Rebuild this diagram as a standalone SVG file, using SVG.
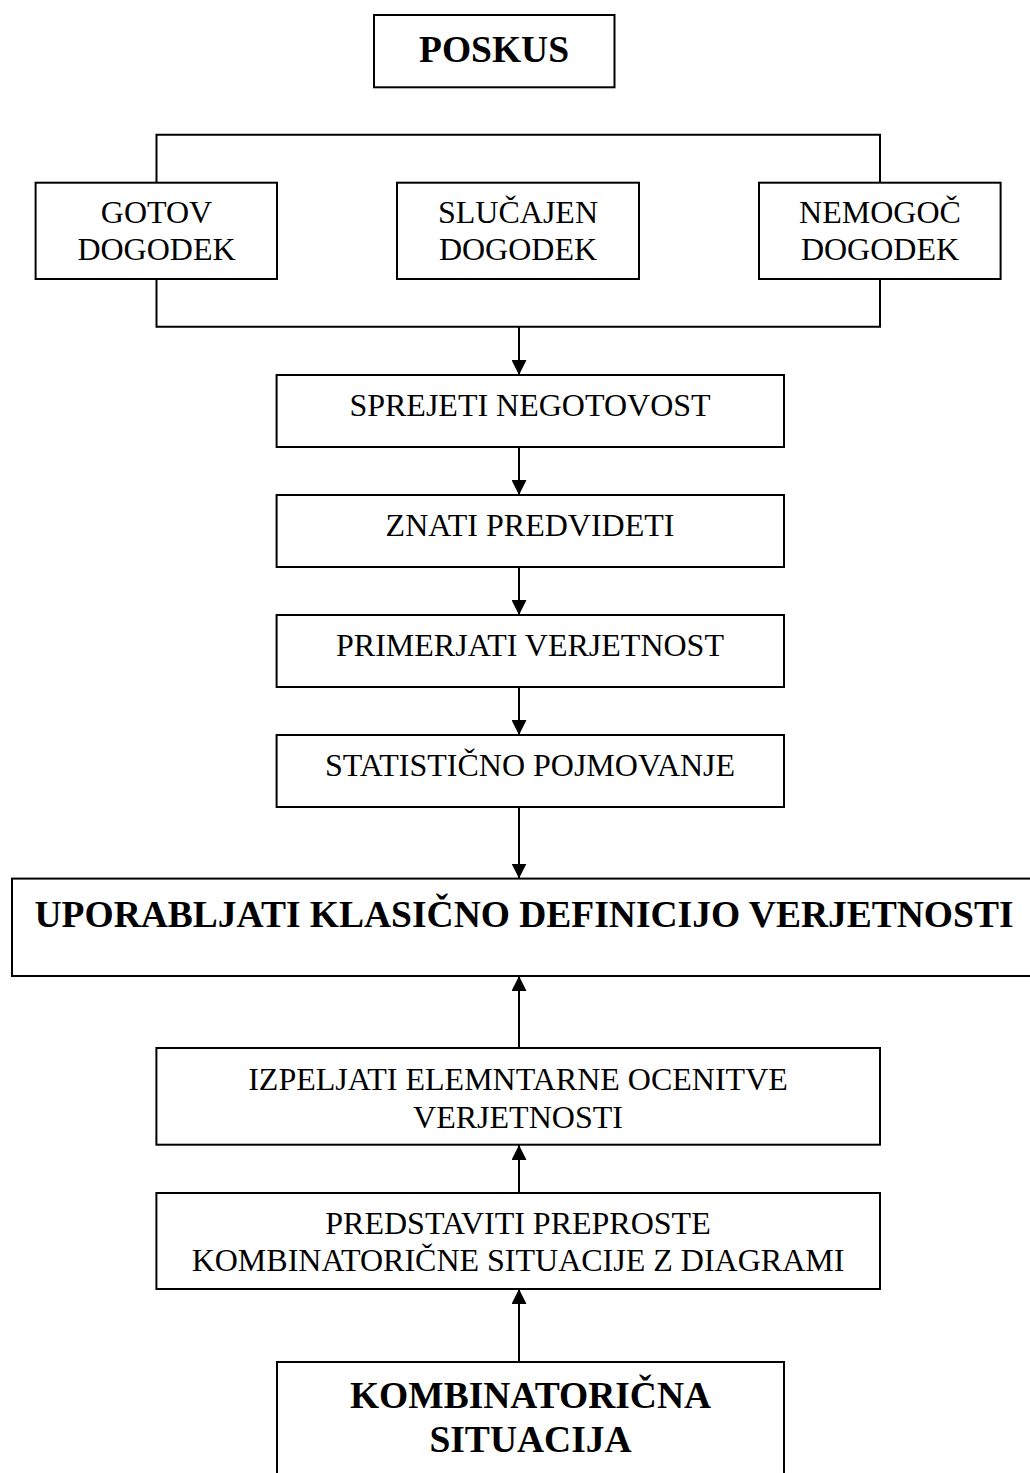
<svg xmlns="http://www.w3.org/2000/svg" width="1030" height="1473" viewBox="0 0 1030 1473">
<defs>
<marker id="ah" viewBox="0 0 15 15" refX="15" refY="7.5" markerWidth="15" markerHeight="15" markerUnits="userSpaceOnUse" orient="auto">
<path d="M0,0 L15,7.5 L0,15 Z" fill="#000"/>
</marker>
<style>
.box{fill:#fff;stroke:#000;stroke-width:2}
.t{font-family:"Liberation Serif","Times New Roman",serif;font-size:32px;fill:#000;text-anchor:middle}
.b{font-family:"Liberation Serif","Times New Roman",serif;font-size:37.5px;font-weight:bold;fill:#000;text-anchor:middle}
.ln{fill:none;stroke:#000;stroke-width:2}
.ar{fill:none;stroke:#000;stroke-width:2;marker-end:url(#ah)}
</style>
</defs>
<rect width="1030" height="1473" fill="#fff"/>
<g id="connectors">
<path class="ln" d="M156.5,182.7 V134.7 H880 V182.7"/>
<path class="ln" d="M156.5,279 V326.7 H880 V279"/>
<path class="ar" d="M519,326.7 V375"/>
<path class="ar" d="M519,447 V495"/>
<path class="ar" d="M519,567 V615"/>
<path class="ar" d="M519,687 V735"/>
<path class="ar" d="M519,807 V878.6"/>
<path class="ar" d="M519,1048 V976"/>
<path class="ar" d="M519,1193 V1145"/>
<path class="ar" d="M519,1362 V1289"/>
</g>
<g id="poskus">
<rect class="box" x="374" y="15" width="240.5" height="72.3"/>
<text class="b" x="494" y="61.5">POSKUS</text>
</g>
<g id="gotov">
<rect class="box" x="35.6" y="182.7" width="241.4" height="96.3"/>
<text class="t" x="156.5" y="223">GOTOV</text>
<text class="t" x="156.5" y="260">DOGODEK</text>
</g>
<g id="slucajen">
<rect class="box" x="397" y="182.7" width="242" height="96.3"/>
<text class="t" x="518" y="223">SLUČAJEN</text>
<text class="t" x="518" y="260">DOGODEK</text>
</g>
<g id="nemogoc">
<rect class="box" x="759" y="182.7" width="241.6" height="96.3"/>
<text class="t" x="880" y="223">NEMOGOČ</text>
<text class="t" x="880" y="260">DOGODEK</text>
</g>
<g id="sprejeti">
<rect class="box" x="276.6" y="375" width="507.4" height="72"/>
<text class="t" x="530" y="416">SPREJETI NEGOTOVOST</text>
</g>
<g id="znati">
<rect class="box" x="276.6" y="495" width="507.4" height="72"/>
<text class="t" x="530" y="536">ZNATI PREDVIDETI</text>
</g>
<g id="primerjati">
<rect class="box" x="276.6" y="615" width="507.4" height="72"/>
<text class="t" x="530" y="656">PRIMERJATI VERJETNOST</text>
</g>
<g id="statisticno">
<rect class="box" x="276.6" y="735" width="507.4" height="72"/>
<text class="t" x="530" y="776">STATISTIČNO POJMOVANJE</text>
</g>
<g id="uporabljati">
<rect class="box" x="12" y="878.6" width="1030" height="97.4"/>
<text class="b" x="524" y="927">UPORABLJATI KLASIČNO DEFINICIJO VERJETNOSTI</text>
</g>
<g id="izpeljati">
<rect class="box" x="156.4" y="1048" width="723.6" height="96.7"/>
<text class="t" x="518" y="1090">IZPELJATI ELEMNTARNE OCENITVE</text>
<text class="t" x="518" y="1127.5">VERJETNOSTI</text>
</g>
<g id="predstaviti">
<rect class="box" x="156.4" y="1193" width="723.6" height="96"/>
<text class="t" x="518" y="1234">PREDSTAVITI PREPROSTE</text>
<text class="t" x="518" y="1271">KOMBINATORIČNE SITUACIJE Z DIAGRAMI</text>
</g>
<g id="kombinatoricna">
<rect class="box" x="277" y="1362" width="507" height="130"/>
<text class="b" x="530.5" y="1408">KOMBINATORIČNA</text>
<text class="b" x="530.5" y="1452">SITUACIJA</text>
</g>
</svg>
